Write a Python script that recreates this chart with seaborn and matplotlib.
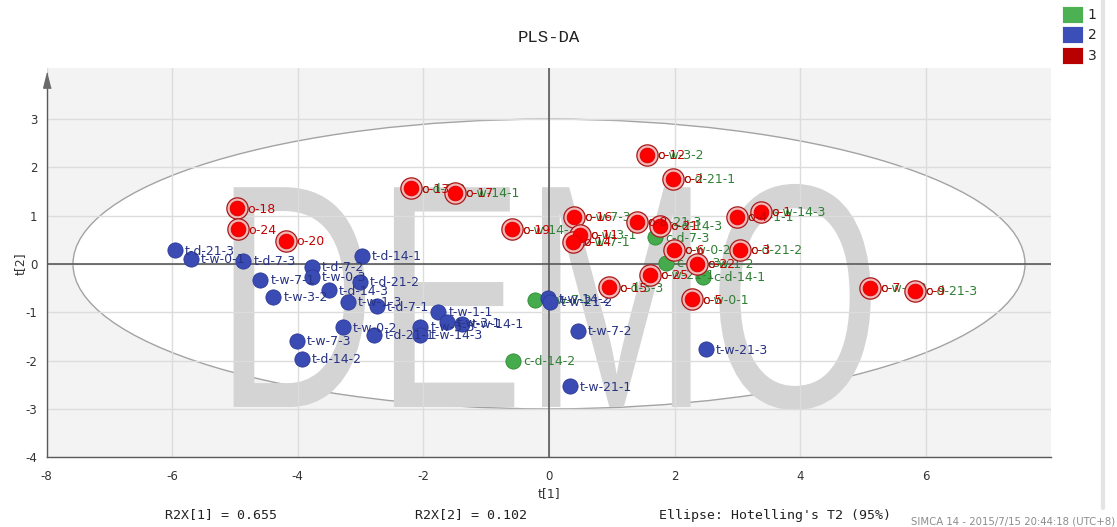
import matplotlib
matplotlib.use("Agg")
import matplotlib.pyplot as plt
import seaborn as sns
import pandas as pd
from matplotlib.patches import Ellipse, Patch
from matplotlib.lines import Line2D
from matplotlib.patheffects import AbstractPathEffect
from matplotlib.transforms import Affine2D
from matplotlib.ticker import MultipleLocator, FixedLocator

# ---------------------------------------------------------------------------
# PLS-DA scores t[1] / t[2]
# ---------------------------------------------------------------------------
# class 1 (c samples)
class1_names = ["c-d-7-3", "c-d-0-3", "c-d-14-1", "c-w-7-2", "c-d-14-2",
                "c-d-7-2", "c-w-14-1", "c-w-14-2", "c-w-7-3", "c-w-3-1",
                "c-w-7-1", "c-w-21-3", "c-d-14-3", "c-w-0-2", "c-d-21-2",
                "c-w-1-1", "c-w-1-2", "c-w-21-1", "c-d-3-3", "c-w-0-1",
                "c-w-3-2", "c-d-21-1", "c-w-14-3", "c-w-0-3", "c-d-21-3"]
class1_t1 = [1.69, 1.86, 2.46, -0.22, -0.57,
             -2.19, -1.50, -0.59, 0.40, 0.50,
             0.39, 1.40, 1.77, 1.99, 3.04,
             3.00, 2.36, 1.61, 0.96, 2.28,
             1.56, 1.97, 3.37, 5.11, 5.83]
class1_t2 = [0.55, 0.03, -0.26, -0.74, -2.00,
             1.57, 1.48, 0.72, 0.97, 0.60,
             0.46, 0.88, 0.79, 0.30, 0.29,
             0.97, 0.00, -0.23, -0.48, -0.73,
             2.26, 1.77, 1.08, -0.50, -0.55]

# class 2 (t samples)
class2_names = ["t-d-21-3", "t-w-0-1", "t-d-7-3", "t-d-14-1", "t-d-7-2",
                "t-w-7-1", "t-w-0-3", "t-d-21-2", "t-d-14-3", "t-w-3-2",
                "t-w-1-3", "t-d-7-1", "t-w-0-2", "t-d-21-1", "t-w-7-3",
                "t-d-14-2", "t-w-1-1", "t-w-3-1", "t-w-14-1", "t-w-3-3",
                "t-w-14-3", "t-w-14-2", "t-w-21-2", "t-w-7-2", "t-w-21-3",
                "t-w-21-1"]
class2_t1 = [-5.96, -5.70, -4.87, -2.98, -3.78,
             -4.60, -3.78, -3.01, -3.51, -4.39,
             -3.20, -2.74, -3.28, -2.78, -4.02,
             -3.94, -1.76, -1.63, -1.39, -2.05,
             -2.05, -0.01, 0.02, 0.46, 2.50,
             0.33]
class2_t2 = [0.28, 0.11, 0.065, 0.17, -0.055,
             -0.33, -0.27, -0.37, -0.545, -0.68,
             -0.79, -0.875, -1.31, -1.47, -1.59,
             -1.97, -0.99, -1.21, -1.245, -1.30,
             -1.47, -0.71, -0.78, -1.38, -1.77,
             -2.53]

# class 3 (o samples)
class3_names = ["o-18", "o-24", "o-20", "o-13", "o-17", "o-19", "o-16", "o-11",
                "o-14", "o-8", "o-21", "o-6", "o-3", "o-4", "o-22", "o-25",
                "o-15", "o-5", "o-12", "o-2", "o-1", "o-7", "o-9"]
class3_t1 = [-4.97, -4.95, -4.18, -2.19, -1.50, -0.59, 0.40, 0.50,
             0.39, 1.40, 1.77, 1.99, 3.04, 3.00, 2.36, 1.61,
             0.96, 2.28, 1.56, 1.97, 3.37, 5.11, 5.83]
class3_t2 = [1.15, 0.72, 0.475, 1.57, 1.48, 0.72, 0.97, 0.60,
             0.46, 0.88, 0.79, 0.30, 0.29, 0.97, 0.00, -0.23,
             -0.48, -0.73, 2.26, 1.77, 1.08, -0.50, -0.55]

class_labels = ["1", "2", "3"]
r2x = [0.655, 0.102]
ellipse_radius_t1 = 7.58
ellipse_radius_t2 = 3.0
x_ticks = [-8, -6, -4, -2, 0, 2, 4, 6]
y_ticks = [-4, -3, -2, -1, 0, 1, 2, 3]

# colours per class: marker face, marker edge, label text, legend swatch
face_colors = ["#45ab4c", "#3a4bb4", "#ff0000"]
edge_colors = ["#2f8a37", "#2c3a96", "#d80000"]
text_colors = ["#2f7f34", "#283383", "#c40000"]
legend_colors = ["#4bb152", "#3c4fb8", "#b80000"]


class Squeeze(AbstractPathEffect):
    """Draw text glyphs compressed horizontally about their own centre."""

    def __init__(self, sx):
        super().__init__()
        self._sx = sx

    def draw_path(self, renderer, gc, tpath, affine, rgbFace=None):
        xs = tpath.vertices[:, 0]
        cx = 0.5 * (xs.min() + xs.max())
        squeeze = Affine2D().translate(-cx, 0).scale(self._sx, 1.0).translate(cx, 0)
        renderer.draw_path(gc, tpath, squeeze + affine, rgbFace)


sns.set_style("white")
plt.rcParams["font.family"] = ["DejaVu Sans"]
plt.rcParams["axes.unicode_minus"] = False

W, H = 1117, 527
fig = plt.figure(figsize=(W / 100, H / 100), dpi=100)
ax = fig.add_axes([46.6 / W, (H - 457.2) / H, 1004.8 / W, 388.8 / H])
ax.set_xlim(-8, 8)
ax.set_ylim(-4, 4.05)
ax.set_facecolor("#f3f3f3")

# Hotelling's T2 (95%) ellipse, white inside
ax.add_patch(Ellipse((0, 0), 2 * ellipse_radius_t1, 2 * ellipse_radius_t2,
                     facecolor="white", edgecolor="#a3a3a3", lw=1.0, zorder=0.2))

# watermark
ax.text(0.03, -2.96, "DEMO", fontsize=230, family="Liberation Sans",
        color="#d4d4d4", ha="center", va="baseline", zorder=0.3,
        path_effects=[Squeeze(0.695)])

ax.set_axisbelow(True)
ax.xaxis.set_major_locator(FixedLocator(x_ticks))
ax.yaxis.set_major_locator(FixedLocator(y_ticks))
ax.xaxis.set_minor_locator(MultipleLocator(1))
ax.yaxis.set_minor_locator(MultipleLocator(0.5))
ax.grid(True, which="major", color="#dcdcdc", lw=1.0)
ax.axhline(0, color="#4d4d4d", lw=1.1, zorder=1)
ax.axvline(0, color="#4d4d4d", lw=1.1, zorder=1)

groups = [(class1_names, class1_t1, class1_t2),
          (class2_names, class2_t1, class2_t2),
          (class3_names, class3_t1, class3_t2)]

for k, (names, t1, t2) in enumerate(groups):
    z = 3 + k
    df = pd.DataFrame({"t1": t1, "t2": t2, "name": names})
    if k == 2:
        # ring around class 3 markers
        sns.scatterplot(data=df, x="t1", y="t2", ax=ax, s=235,
                        color="#f2b8b8", edgecolor="#a81818", linewidth=0.9,
                        zorder=z, legend=False)
        size = 112
    else:
        size = 120
    sns.scatterplot(data=df, x="t1", y="t2", ax=ax, s=size,
                    color=face_colors[k], edgecolor=edge_colors[k],
                    linewidth=0.6, zorder=z + 0.1, legend=False)
    for name, x, y in zip(names, t1, t2):
        ax.annotate(name, (x, y), xytext=(7.3, -0.6), textcoords="offset points",
                    ha="left", va="center", fontsize=9, color=text_colors[k],
                    zorder=z + 0.2)

# axes styling
for side in ["top", "right"]:
    ax.spines[side].set_visible(False)
for side in ["left", "bottom"]:
    ax.spines[side].set_color("#5a5a5a")
    ax.spines[side].set_linewidth(1.0)
ax.spines["left"].set_bounds(-4, 3.8)
ax.plot([0], [3.8], transform=ax.get_yaxis_transform(), clip_on=False,
        marker=[(0, 1), (-0.5, -1), (0.5, -1)], markersize=11,
        color="#6a6a6a", zorder=6)

ax.tick_params(axis="both", which="major", direction="out", length=3,
               width=0.8, color="#5a5a5a", labelsize=8.5, labelcolor="#333333")
ax.tick_params(axis="both", which="minor", direction="out", length=2,
               width=0.7, color="#5a5a5a")
ax.tick_params(axis="x", which="major", pad=6.5)
ax.tick_params(axis="y", which="major", pad=3.5)

ax.set_xlabel("t[1]", fontsize=9, color="#333333")
ax.set_ylabel("t[2]", fontsize=9, color="#333333")
ax.xaxis.set_label_coords(0.5, -0.077)
ax.yaxis.set_label_coords(-0.0195, 0.497)

ax.set_title("PLS-DA", pad=19, fontsize=12.5, family="Liberation Mono",
             color="#222222")

# class legend
handles = [Patch(facecolor=c, edgecolor="#ffffff", linewidth=0.6)
           for c in legend_colors]
fig.legend(handles, class_labels, loc="upper left",
           bbox_to_anchor=(1062 / W, 1 - 6 / H), frameon=False, fontsize=10,
           handlelength=1.5, handleheight=1.5, labelspacing=0.25,
           handletextpad=0.35, borderpad=0, borderaxespad=0)

# footer
mono = dict(family="DejaVu Sans Mono", fontsize=9.5, color="#222222", va="center")
fig.text(165 / W, 1 - 515 / H, f"R2X[1] = {r2x[0]:.3f}", **mono)
fig.text(415 / W, 1 - 515 / H, f"R2X[2] = {r2x[1]:.3f}", **mono)
fig.text(659 / W, 1 - 515 / H, "Ellipse: Hotelling's T2 (95%)", **mono)
fig.text(1115 / W, 1 - 521 / H, "SIMCA 14 - 2015/7/15 20:44:18 (UTC+8)",
         ha="right", va="center", fontsize=7.3, color="#8c8c8c")

fig.add_artist(Line2D([1103 / W, 1103 / W], [1 - 508 / H, 1.0],
                      transform=fig.transFigure, color="#e4e4e4", lw=3))

fig.savefig("out.png", dpi=100, facecolor="white")
